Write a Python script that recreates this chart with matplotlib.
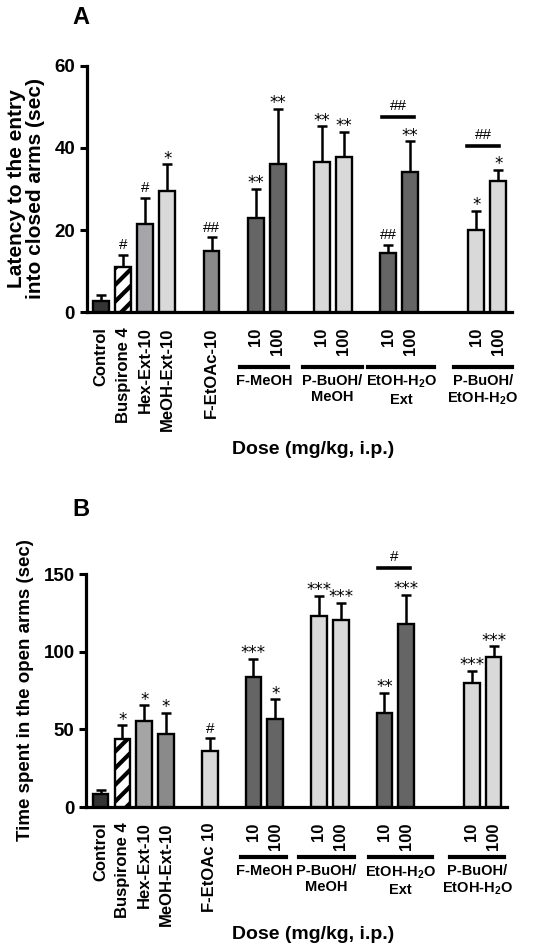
import matplotlib
matplotlib.use('Agg')
import matplotlib.pyplot as plt
from matplotlib import transforms

plt.rcParams['font.family'] = ['Liberation Sans', 'DejaVu Sans']
plt.rcParams['font.weight'] = 'bold'
plt.rcParams['mathtext.fontset'] = 'custom'
plt.rcParams['mathtext.rm'] = 'Liberation Sans:bold'
plt.rcParams['mathtext.default'] = 'rm'
plt.rcParams['hatch.linewidth'] = 3.0

# ---- data ----
labels_a = ['Control', 'Buspirone 4', 'Hex-Ext-10', 'MeOH-Ext-10', 'F-EtOAc-10',
            '10', '100', '10', '100', '10', '100', '10', '100']
labels_b = ['Control', 'Buspirone 4', 'Hex-Ext-10', 'MeOH-Ext-10', 'F-EtOAc 10',
            '10', '100', '10', '100', '10', '100', '10', '100']
groups = ['F-MeOH', 'P-BuOH/\nMeOH', 'EtOH-H$_2$O\nExt', 'P-BuOH/\nEtOH-H$_2$O']

latency_mean = [2.8, 11.1, 21.5, 29.5, 15.0, 23.0, 36.2, 36.7, 37.9, 14.4, 34.1, 20.1, 31.9]
latency_sem = [1.3, 2.8, 6.4, 6.5, 3.2, 7.1, 13.3, 8.6, 6.1, 2.0, 7.5, 4.5, 2.7]
latency_marks = ['', '#', '#', '*', '##', '**', '**', '**', '**', '##', '**', '*', '*']

open_mean = [8.7, 43.8, 55.3, 47.0, 36.2, 83.9, 56.4, 122.9, 120.7, 60.7, 117.7, 79.6, 96.9]
open_sem = [2.1, 8.7, 10.2, 13.7, 8.2, 11.5, 13.0, 13.0, 10.9, 13.0, 18.7, 8.2, 6.5]
open_marks = ['', '*', '*', '*', '#', '***', '*', '***', '***', '**', '***', '***', '***']

# 10 vs 100 comparisons (bracket height, label)
latency_brackets = {'EtOH': (47.6, '##'), 'PE': (40.5, '##')}
open_brackets = {'EtOH': (153.9, '#')}

# ---- layout / style ----
xpos = [0, 1, 2, 3, 5, 7, 8, 10, 11, 13, 14, 17, 18]
DARK, MID, LIGHT, GREY = '#343434', '#656565', '#d9d9d9', '#8a8a8a'
fills_a = [DARK, 'hatch', '#a5a5aa', LIGHT, GREY, MID, MID, LIGHT, LIGHT, MID, MID, LIGHT, LIGHT]
fills_b = [DARK, 'hatch', '#a5a5a5', GREY, LIGHT, MID, MID, LIGHT, LIGHT, MID, MID, LIGHT, LIGHT]
group_spans_a = [(6.3, 8.45), (9.15, 11.8), (12.1, 15.1), (16.0, 18.6)]
group_spans_b = [(6.45, 8.5), (9.1, 11.6), (12.3, 15.2), (16.0, 18.5)]


def draw_panel(ax, means, sems, marks, fills, labels, spans, brackets, ymax, yticks,
               line_y, text_y):
    for x, m, f in zip(xpos, means, fills):
        if f == 'hatch':
            ax.bar(x, m, width=0.72, color='white', edgecolor='black', hatch='//',
                   linewidth=1.7, zorder=3)
        else:
            ax.bar(x, m, width=0.72, color=f, edgecolor='black', linewidth=1.7, zorder=3)
    ax.errorbar(xpos, means, yerr=[[0] * len(means), sems], fmt='none', ecolor='black',
                elinewidth=1.8, capsize=3.5, capthick=1.8, zorder=2)
    for x, m, s, t in zip(xpos, means, sems, marks):
        if not t:
            continue
        if '*' in t:
            ax.annotate(t, (x, m + s), xytext=(0, 0.5), textcoords='offset points',
                        ha='center', va='baseline', fontsize=12, fontweight='normal',
                        family='DejaVu Sans', annotation_clip=False)
        else:
            ax.annotate(t, (x, m + s), xytext=(0, 4), textcoords='offset points',
                        ha='center', va='baseline', fontsize=11, fontweight='normal',
                        annotation_clip=False)

    # bracket between 10 and 100 mg/kg
    spans_br = {'EtOH': (12.73, 14.18), 'PE': (16.6, 18.05)}
    for key, (yb, t) in brackets.items():
        x0, x1 = spans_br[key]
        ax.plot([x0, x1], [yb, yb], color='black', lw=2.6, clip_on=False)
        ax.annotate(t, ((x0 + x1) / 2, yb), xytext=(0, 5), textcoords='offset points',
                    ha='center', va='baseline', fontsize=11, fontweight='normal',
                    annotation_clip=False)

    ax.set_xlim(-0.65, 18.62)
    ax.set_ylim(0, ymax)
    ax.set_yticks(yticks)
    ax.set_xticks(xpos)
    ax.set_xticklabels(labels, rotation=90, fontsize=12, fontweight='bold')
    ax.tick_params(axis='x', length=0, pad=11)
    ax.tick_params(axis='y', length=5, width=2.2, labelsize=13.5)
    for lab in ax.get_yticklabels():
        lab.set_fontweight('bold')
    for s in ['top', 'right']:
        ax.spines[s].set_visible(False)
    for s in ['left', 'bottom']:
        ax.spines[s].set_linewidth(2.3)

    trans = transforms.blended_transform_factory(ax.transData, ax.transAxes)
    for (x0, x1), g in zip(spans, groups):
        ax.plot([x0, x1], [line_y, line_y], color='black', lw=3, transform=trans,
                clip_on=False)
        ax.text((x0 + x1) / 2, text_y, g, transform=trans, ha='center', va='top',
                fontsize=10.5, fontweight='bold', multialignment='center',
                linespacing=1.2)


fig = plt.figure(figsize=(5.5, 9.49), dpi=100)

ax1 = fig.add_axes([0.158, 0.6712, 0.773, 0.2593])
draw_panel(ax1, latency_mean, latency_sem, latency_marks, fills_a, labels_a,
           group_spans_a, latency_brackets, 60, [0, 20, 40, 60], -0.224, -0.252)
ax1.text(-0.1435, 0.5, 'Latency to the entry\ninto closed arms (sec)', transform=ax1.transAxes,
         rotation=90, ha='center', va='center', fontsize=15, fontweight='bold',
         multialignment='center', linespacing=1.05)

ax2 = fig.add_axes([0.157, 0.1496, 0.765, 0.2455])
draw_panel(ax2, open_mean, open_sem, open_marks, fills_b, labels_b,
           group_spans_b, open_brackets, 150, [0, 50, 100, 150], -0.215, -0.245)
ax2.text(-0.145, 0.5, 'Time spent in the open arms (sec)', transform=ax2.transAxes,
         rotation=90, ha='center', va='center', fontsize=13.5, fontweight='bold')

fig.text(0.569, 0.526, 'Dose (mg/kg, i.p.)', ha='center', va='center', fontsize=14,
         fontweight='bold')
fig.text(0.569, 0.0148, 'Dose (mg/kg, i.p.)', ha='center', va='center', fontsize=14,
         fontweight='bold')
fig.text(0.131, 0.982, 'A', ha='left', va='center', fontsize=17, fontweight='bold')
fig.text(0.131, 0.4626, 'B', ha='left', va='center', fontsize=17, fontweight='bold')

fig.savefig('out.png', dpi=100)
